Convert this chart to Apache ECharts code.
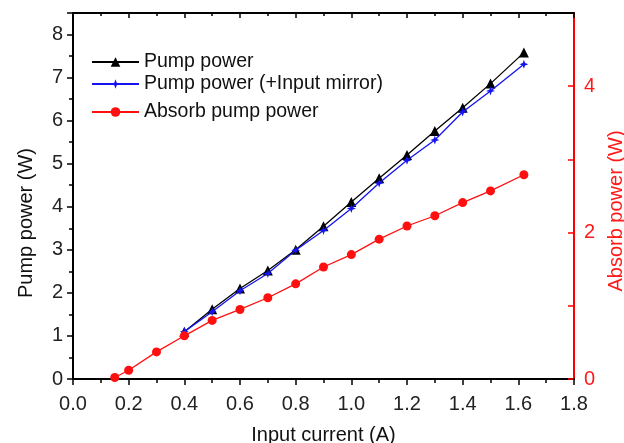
<!DOCTYPE html>
<html>
<head>
<meta charset="utf-8">
<script src="https://cdn.jsdelivr.net/npm/echarts@6/dist/echarts.min.js"></script>
<style>
html,body{margin:0;padding:0;background:#fff;}
#c{width:624px;height:443px;}
</style>
</head>
<body>
<div id="c"></div>
<script>
// Data
var absorbCurrent = [0.15, 0.2, 0.3, 0.4, 0.5, 0.6, 0.7, 0.8, 0.9, 1.0, 1.1, 1.2, 1.3, 1.4, 1.5, 1.62];
var absorbPower   = [0.02, 0.12, 0.37, 0.59, 0.80, 0.95, 1.11, 1.30, 1.53, 1.70, 1.91, 2.09, 2.23, 2.41, 2.57, 2.79];
var pumpCurrent   = [0.4, 0.5, 0.6, 0.7, 0.8, 0.9, 1.0, 1.1, 1.2, 1.3, 1.4, 1.5, 1.62];
var pumpPower     = [1.10, 1.62, 2.10, 2.52, 3.00, 3.55, 4.11, 4.66, 5.20, 5.76, 6.30, 6.86, 7.58];
var mirrorPower   = [1.10, 1.56, 2.05, 2.45, 2.99, 3.45, 3.96, 4.55, 5.08, 5.55, 6.20, 6.69, 7.31];
var seriesNames   = ['Pump power', 'Pump power (+Input mirror)', 'Absorb pump power'];

function pairs(xs, ys) { return xs.map(function (x, i) { return [x, ys[i]]; }); }

var FONT = "'Liberation Sans', Arial, sans-serif";
var starPath = 'path://M0,-10 L2.6,-2.6 L10,0 L2.6,2.6 L0,10 L-2.6,2.6 L-10,0 L-2.6,-2.6 Z';

function legendAt(name, top) {
  return {
    data: [name], left: 91, top: top, padding: 0,
    itemWidth: 47, itemHeight: 12, selectedMode: false,
    textStyle: { fontFamily: FONT, fontSize: 19.5, color: '#111' }
  };
}

var chart = echarts.init(document.getElementById('c'), null, { renderer: 'canvas' });
chart.setOption({
  backgroundColor: '#fff',
  animation: false,
  grid: { left: 73, right: 50, top: 13, bottom: 64, containLabel: false, outerBoundsMode: 'none' },
  legend: [legendAt(seriesNames[0], 52), legendAt(seriesNames[1], 74), legendAt(seriesNames[2], 102)],
  xAxis: [{
    type: 'value', position: 'bottom', min: 0, max: 1.8, interval: 0.2,
    name: 'Input current (A)', nameLocation: 'middle', nameGap: 46,
    nameTextStyle: { fontFamily: FONT, fontSize: 20, color: '#111' },
    axisLine: { show: true, onZero: false, lineStyle: { color: '#000', width: 2 } },
    axisTick: { show: true, inside: false, length: 6, lineStyle: { color: '#000', width: 1.5 } },
    minorTick: { show: true, splitNumber: 2, length: 4, lineStyle: { color: '#000', width: 1.5 } },
    axisLabel: { fontFamily: FONT, fontSize: 20, color: '#222', margin: 15,
      formatter: function (v) { return v.toFixed(1); } },
    splitLine: { show: false }
  }, {
    type: 'value', position: 'top', min: 0, max: 1.8, interval: 0.2,
    axisLine: { show: true, onZero: false, lineStyle: { color: '#000', width: 2 } },
    axisTick: { show: true, inside: true, length: 5, lineStyle: { color: '#000', width: 1.5 } },
    minorTick: { show: true, splitNumber: 2, length: 3, lineStyle: { color: '#000', width: 1.5 } },
    axisLabel: { show: false },
    splitLine: { show: false }
  }],
  yAxis: [{
    type: 'value', position: 'left', min: 0, max: 8.5, interval: 1,
    name: 'Pump power (W)', nameLocation: 'middle', nameGap: 37,
    nameTextStyle: { fontFamily: FONT, fontSize: 20, color: '#111', padding: [0, 54, 0, 0] },
    axisLine: { show: true, onZero: false, lineStyle: { color: '#000', width: 2 } },
    axisTick: { show: true, inside: false, length: 6, lineStyle: { color: '#000', width: 1.5 } },
    minorTick: { show: true, splitNumber: 2, length: 4, lineStyle: { color: '#000', width: 1.5 } },
    axisLabel: { fontFamily: FONT, fontSize: 20, color: '#222', margin: 10, showMaxLabel: false },
    splitLine: { show: false }
  }, {
    type: 'value', position: 'right', min: 0, max: 5, interval: 1,
    name: 'Absorb power (W)', nameLocation: 'middle', nameGap: 31,
    nameTextStyle: { fontFamily: FONT, fontSize: 20, color: '#ff1a1a', padding: [0, 30, 0, 0] },
    axisLine: { show: true, onZero: false, lineStyle: { color: '#ff0000', width: 2 } },
    axisTick: { show: true, inside: true, length: 6, lineStyle: { color: '#ff0000', width: 1.5 } },
    axisLabel: { fontFamily: FONT, fontSize: 20, color: '#ff1a1a', margin: 10, showMaxLabel: false,
      formatter: function (v) { return (Math.round(v) % 2 === 0) ? String(v) : ''; } },
    splitLine: { show: false }
  }],
  series: [{
    name: seriesNames[0], type: 'line', xAxisIndex: 0, yAxisIndex: 0,
    data: pairs(pumpCurrent, pumpPower),
    symbol: 'triangle', symbolSize: 10,
    lineStyle: { color: '#000', width: 1.3 }, itemStyle: { color: '#000' }, z: 2
  }, {
    name: seriesNames[1], type: 'line', xAxisIndex: 0, yAxisIndex: 0,
    data: pairs(pumpCurrent, mirrorPower),
    symbol: starPath, symbolSize: 9,
    lineStyle: { color: '#1414ee', width: 1.3 }, itemStyle: { color: '#1414ee' }, z: 3
  }, {
    name: seriesNames[2], type: 'line', xAxisIndex: 0, yAxisIndex: 1,
    data: pairs(absorbCurrent, absorbPower),
    symbol: 'circle', symbolSize: 9,
    lineStyle: { color: '#ff1010', width: 1.3 }, itemStyle: { color: '#ff1010' }, z: 4
  }]
});
</script>
</body>
</html>
